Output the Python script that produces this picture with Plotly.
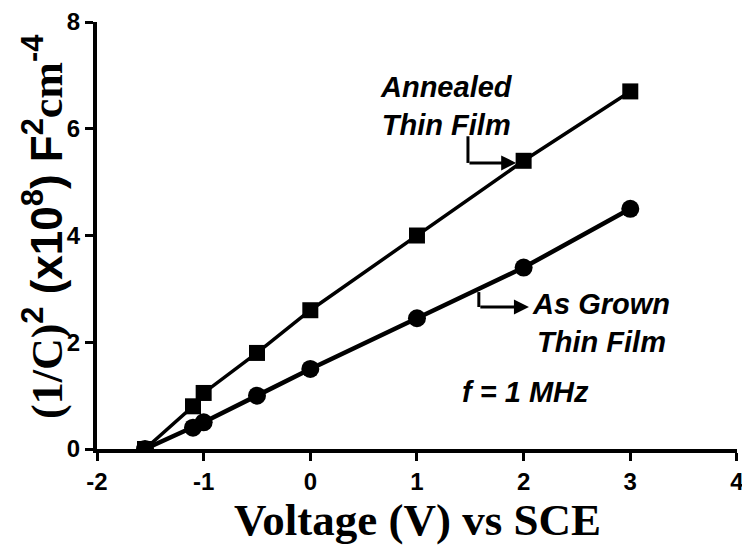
import plotly.graph_objects as go

voltage = [-1.55, -1.1, -1.0, -0.5, 0, 1, 2, 3]
annealed = [0, 0.8, 1.05, 1.8, 2.6, 4.0, 5.4, 6.7]
as_grown = [0, 0.4, 0.5, 1.0, 1.5, 2.45, 3.4, 4.5]

x_ticks = [-2, -1, 0, 1, 2, 3, 4]
y_ticks = [0, 2, 4, 6, 8]

fig = go.Figure()
fig.add_trace(go.Scatter(x=voltage, y=as_grown, mode="lines+markers",
                         line=dict(color="black", width=4.5),
                         marker=dict(symbol="circle", size=18, color="black"),
                         name="As Grown Thin Film"))
fig.add_trace(go.Scatter(x=voltage, y=annealed, mode="lines+markers",
                         line=dict(color="black", width=3.5),
                         marker=dict(symbol="square", size=16, color="black"),
                         name="Annealed Thin Film"))

AR = "Liberation Sans, Arial, sans-serif"
TR = "Liberation Serif, Times New Roman, serif"

axis_common = dict(showline=True, linecolor="black", linewidth=4, ticks="outside",
                   ticklen=8, tickwidth=3, tickcolor="black", showgrid=False,
                   zeroline=False, automargin=False, ticklabeloverflow="allow",
                   tickfont=dict(family=AR, size=24, color="black", weight="bold"))

fig.update_xaxes(range=[-2, 4.0005], tickvals=x_ticks, ticktext=[str(v) for v in x_ticks],
                 **axis_common)
fig.update_yaxes(range=[0, 8.0005], tickvals=y_ticks, ticktext=[str(v) for v in y_ticks],
                 **axis_common)

ann_font = dict(family=AR, size=29, color="black", weight="bold", style="italic")
annotations = [
    dict(x=1.28, y=6.43, xref="x", yref="y", text="Annealed<br>Thin Film",
         showarrow=False, font=ann_font, align="center"),
    dict(x=2.73, y=2.36, xref="x", yref="y", text="As Grown<br>Thin Film",
         showarrow=False, font=ann_font, align="center"),
    dict(x=2.02, y=1.07, xref="x", yref="y", text="f = 1 MHz",
         showarrow=False, font=ann_font),
    # arrows
    dict(x=1.93, y=5.36, ax=1.478, ay=5.36, xref="x", yref="y", axref="x", ayref="y",
         text="", showarrow=True, arrowhead=2, arrowsize=1, arrowwidth=3, arrowcolor="black"),
    dict(x=2.05, y=2.66, ax=1.58, ay=2.66, xref="x", yref="y", axref="x", ayref="y",
         text="", showarrow=True, arrowhead=2, arrowsize=1, arrowwidth=3, arrowcolor="black"),
    # axis titles
    dict(x=0.5, y=-0.167, xref="paper", yref="paper", xanchor="center", yanchor="middle",
         text="<b>Voltage (V) vs SCE</b>", showarrow=False,
         font=dict(family=TR, size=45, color="black")),
    dict(x=-54 / 640, y=0.52, xref="paper", yref="paper", xanchor="center", yanchor="middle",
         textangle=-90, showarrow=False,
         text=("<b><span style='font-family:Liberation Serif'>(1/C)</span><sup>2</sup> "
               "(x10<sup>8</sup>) F<sup>2</sup>"
               "<span style='font-family:Liberation Serif'>cm</span><sup>-4</sup></b>"),
         font=dict(family=AR, size=44, color="black")),
]

shapes = [
    dict(type="line", xref="x", yref="y", x0=1.478, x1=1.478, y0=5.86, y1=5.36,
         line=dict(color="black", width=3)),
    dict(type="line", xref="x", yref="y", x0=1.58, x1=1.58, y0=2.94, y1=2.66,
         line=dict(color="black", width=3)),
]

fig.update_layout(width=742, height=552, margin=dict(l=97, r=5, t=22, b=103),
                  plot_bgcolor="white", paper_bgcolor="white", showlegend=False,
                  annotations=annotations, shapes=shapes)

fig.write_html("out.html", config={"displayModeBar": False},
               post_script="document.body.style.margin='0px';")
